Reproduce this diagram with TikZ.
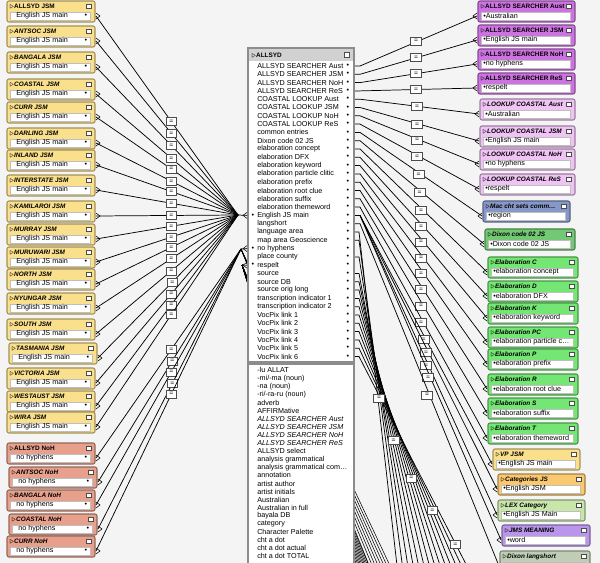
\documentclass[tikz,border=0pt]{standalone}
\usepackage{fontspec}
\setmainfont{Liberation Sans}
\usetikzlibrary{calc,backgrounds}
\definecolor{jsmyellow}{RGB}{250,224,140}
\definecolor{nohred}{RGB}{230,160,140}
\definecolor{searchpurple}{RGB}{205,115,225}
\definecolor{lookuppink}{RGB}{240,195,245}
\definecolor{macblue}{RGB}{135,152,200}
\definecolor{dixongreen}{RGB}{115,200,115}
\definecolor{elabgreen}{RGB}{115,230,115}
\definecolor{catorange}{RGB}{250,200,110}
\definecolor{lexgreen}{RGB}{200,230,170}
\definecolor{jmslilac}{RGB}{185,150,235}
\definecolor{langgrey}{RGB}{190,205,180}
\definecolor{canvas}{RGB}{244,244,244}
\newcommand{\hdrfont}{\fontsize{4.8}{5}\selectfont\bfseries}
\newcommand{\fldfont}{\fontsize{5.4}{6}\selectfont}
% table frame: name, x, y, width, colour, title, title shape
\newcommand{\tblframe}[7]{%
  \draw[rounded corners=1.5pt, fill=#5, draw=#5!65!black, line width=0.8pt] (#2,#3) rectangle (#2+#4,#3+21);
  \node[anchor=west, inner sep=0, font=\hdrfont#7] (#1) at (#2+2,#3+5.5) {{\tiny$\triangleright$}#6};
  \draw[fill=white, draw=black!25] (#2+3,#3+11) rectangle (#2+#4-5,#3+19);
  \draw[fill=white, draw=black!70] (#2+#4-9,#3+3) rectangle (#2+#4-4,#3+7.5);
  \coordinate (#1w) at (#2-1,#3+15);
  \coordinate (#1e) at (#2+#4+1,#3+15);}
% left table: field then bullet, fork on the right
\newcommand{\ltbl}[7]{%
  \tblframe{#1}{#2}{#3}{#4}{#5}{#6}{#7}
  \node[anchor=west, inner sep=0, font=\fldfont] at (#2+9,#3+15) {English JS main};
  \node[inner sep=0, font=\fldfont] at (#2+#4-9,#3+15) {•};
  \draw (#1e) ++(0,-3) -- ++(4,3) -- ++(-4,3);}
\newcommand{\lnoh}[7]{%
  \tblframe{#1}{#2}{#3}{#4}{#5}{#6}{#7}
  \node[anchor=west, inner sep=0, font=\fldfont] at (#2+9,#3+15) {no hyphens};
  \node[inner sep=0, font=\fldfont] at (#2+#4-9,#3+15) {•};
  \draw (#1e) ++(0,-3) -- ++(4,3) -- ++(-4,3);}
% right table: bullet then field, fork on the left
\newcommand{\rtbl}[8]{%
  \tblframe{#1}{#2}{#3}{#4}{#5}{#6}{#7}
  \node[anchor=west, inner sep=0, font=\fldfont] at (#2+5,#3+15) {•#8};
  \draw (#1w) ++(0,-3) -- ++(-4,3) -- ++(4,3);}

\begin{document}
\begin{tikzpicture}[x=0.75pt, y=-0.75pt, line width=0.5pt,
  eqbox/.style={draw=black!70, fill=white, minimum width=8pt, minimum height=6pt,
    inner sep=0, font=\fontsize{5}{5}\selectfont, text height=3pt},
  link/.style={draw=black, line width=0.55pt}]
\begin{pgfonlayer}{background}
\fill[canvas] (0,0) rectangle (600,563);
\end{pgfonlayer}
\useasboundingbox (0,0) rectangle (600,563);

% centre table ALLSYD
\draw[draw=black!45, fill=white, line width=1.2pt] (248,48) rectangle (354,362);
\fill[black!18] (249,49) rectangle (353,61);
\node[anchor=west, inner sep=0, font=\hdrfont] (allsyd) at (251,55) {{\tiny$\triangleright$}ALLSYD};
\draw[fill=white, draw=black!70] (344,52) rectangle (349,57);
\foreach \t [count=\i] in {ALLSYD SEARCHER Aust, ALLSYD SEARCHER JSM, ALLSYD SEARCHER NoH,
    ALLSYD SEARCHER ReS, COASTAL LOOKUP Aust, COASTAL LOOKUP JSM, COASTAL LOOKUP NoH,
    COASTAL LOOKUP ReS, common entries, Dixon code 02 JS, elaboration concept,
    elaboration DFX, elaboration keyword, elaboration particle clitic, elaboration prefix,
    elaboration root clue, elaboration suffix, elaboration themeword, English JS main,
    langshort, language area, map area Geoscience, no hyphens, place county, respelt,
    source, source DB, source orig long, transcription indicator 1,
    transcription indicator 2, VocPix link 1, VocPix link 2, VocPix link 3,
    VocPix link 4, VocPix link 5, VocPix link 6} {
  \node[anchor=west, inner sep=0, font=\fldfont] (c\i) at (257,57.7+\i*8.3) {\t};
  \node[inner sep=0, font=\fldfont] at (348,57.7+\i*8.3) {•};
  \coordinate (cl\i) at (247,57.7+\i*8.3);
  \coordinate (cr\i) at (355,57.7+\i*8.3);
}
\foreach \i in {19,23,25}
  \node[inner sep=0, font=\fldfont] at (253,57.7+\i*8.3) {•};

% lower list of the same table
\draw[draw=black!45, fill=white, line width=1.2pt] (248,364) rectangle (354,570);
\foreach \t [count=\i] in {-lu ALLAT, -mi/-ma (noun), -na (noun), -ri/-ra-ru (noun), adverb,
    AFFIRMative, \textit{ALLSYD SEARCHER Aust}, \textit{ALLSYD SEARCHER JSM},
    \textit{ALLSYD SEARCHER NoH}, \textit{ALLSYD SEARCHER ReS}, ALLSYD select,
    analysis grammatical, analysis grammatical com\ldots, annotation, artist author,
    artist initials, Australian, Australian in full, bayala DB, category,
    Character Palette, cht a dot, cht a dot actual, cht a dot TOTAL}
  \node[anchor=west, inner sep=0, font=\fldfont] (f\i) at (257,362+\i*8.1) {\t};

% left tables JSM
\ltbl{ajsm}{7}{1}{88}{jsmyellow}{ALLSYD JSM}{}
\ltbl{antjsm}{7}{26}{88}{jsmyellow}{ANTSOC JSM}{\itshape}
\ltbl{banjsm}{7}{52}{88}{jsmyellow}{BANGALA JSM}{\itshape}
\ltbl{coajsm}{7}{79}{88}{jsmyellow}{COASTAL JSM}{\itshape}
\ltbl{curjsm}{7}{102}{88}{jsmyellow}{CURR JSM}{\itshape}
\ltbl{darjsm}{7}{128}{88}{jsmyellow}{DARLING JSM}{\itshape}
\ltbl{injsm}{7}{150}{88}{jsmyellow}{INLAND JSM}{\itshape}
\ltbl{intjsm}{7}{175}{88}{jsmyellow}{INTERSTATE JSM}{\itshape}
\ltbl{kamjsm}{7}{201}{88}{jsmyellow}{KAMILAROI JSM}{\itshape}
\ltbl{murjsm}{7}{224}{88}{jsmyellow}{MURRAY JSM}{\itshape}
\ltbl{muwjsm}{7}{247}{88}{jsmyellow}{MURUWARI JSM}{\itshape}
\ltbl{norjsm}{7}{269}{88}{jsmyellow}{NORTH JSM}{\itshape}
\ltbl{nyujsm}{7}{293}{88}{jsmyellow}{NYUNGAR JSM}{\itshape}
\ltbl{soujsm}{7}{319}{88}{jsmyellow}{SOUTH JSM}{\itshape}
\ltbl{tasjsm}{9}{343}{88}{jsmyellow}{TASMANIA JSM}{\itshape}
\ltbl{vicjsm}{7}{368}{88}{jsmyellow}{VICTORIA JSM}{\itshape}
\ltbl{wesjsm}{7}{391}{88}{jsmyellow}{WESTAUST JSM}{\itshape}
\ltbl{wirjsm}{7}{412}{88}{jsmyellow}{WIRA JSM}{\itshape}
% left tables NoH
\lnoh{anoh}{7}{443}{88}{nohred}{ALLSYD NoH}{}
\lnoh{antnoh}{9}{467}{88}{nohred}{ANTSOC NoH}{\itshape}
\lnoh{bannoh}{7}{490}{88}{nohred}{BANGALA NoH}{\itshape}
\lnoh{coanoh}{9}{514}{88}{nohred}{COASTAL NoH}{\itshape}
\lnoh{curnoh}{7}{536}{88}{nohred}{CURR NoH}{\itshape}

% right tables
\rtbl{sraus}{478}{1}{97}{searchpurple}{ALLSYD SEARCHER Aust}{}{Australian}
\rtbl{srjsm}{478}{25}{97}{searchpurple}{ALLSYD SEARCHER JSM}{}{English JS main}
\rtbl{srnoh}{478}{49}{97}{searchpurple}{ALLSYD SEARCHER NoH}{}{no hyphens}
\rtbl{srres}{478}{73}{97}{searchpurple}{ALLSYD SEARCHER ReS}{}{respelt}
\rtbl{lcaus}{480}{99}{95}{lookuppink}{LOOKUP COASTAL Aust}{\itshape}{Australian}
\rtbl{lcjsm}{480}{126}{95}{lookuppink}{LOOKUP COASTAL JSM}{\itshape}{English JS main}
\rtbl{lcnoh}{480}{149}{95}{lookuppink}{LOOKUP COASTAL NoH}{\itshape}{no hyphens}
\rtbl{lcres}{480}{174}{95}{lookuppink}{LOOKUP COASTAL ReS}{\itshape}{respelt}
\rtbl{mac}{483}{201}{87}{macblue}{Mac cht sets comm\ldots}{\itshape}{region}
\rtbl{dixon}{485}{229}{90}{dixongreen}{Dixon code 02 JS}{\itshape}{Dixon code 02 JS}
\rtbl{elc}{488}{257}{90}{elabgreen}{Elaboration C}{\itshape}{elaboration concept}
\rtbl{eld}{488}{281}{90}{elabgreen}{Elaboration D}{\itshape}{elaboration DFX}
\rtbl{elk}{488}{303}{90}{elabgreen}{Elaboration K}{\itshape}{elaboration keyword}
\rtbl{elpc}{488}{327}{90}{elabgreen}{Elaboration PC}{\itshape}{elaboration particle c\ldots}
\rtbl{elp}{488}{349}{90}{elabgreen}{Elaboration P}{\itshape}{elaboration prefix}
\rtbl{elr}{488}{374}{90}{elabgreen}{Elaboration R}{\itshape}{elaboration root clue}
\rtbl{els}{488}{398}{90}{elabgreen}{Elaboration S}{\itshape}{elaboration suffix}
\rtbl{elt}{488}{423}{90}{elabgreen}{Elaboration T}{\itshape}{elaboration themeword}
\rtbl{vp}{493}{449}{87}{jsmyellow}{VP JSM}{\itshape}{English JS main}
\rtbl{cat}{498}{474}{87}{catorange}{Categories JS}{\itshape}{English JSM}
\rtbl{lex}{498}{500}{87}{lexgreen}{LEX Category}{\itshape}{English JS Main}
\rtbl{jms}{502}{525}{88}{jmslilac}{JMS MEANING}{\itshape}{word}
\tblframe{dlang}{500}{551}{90}{langgrey}{Dixon langshort}{\itshape}
\draw (dlangw) ++(0,-3) -- ++(-4,3) -- ++(4,3);

% hubs on the left side of ALLSYD
\coordinate (hubE) at (238,215);
\coordinate (hubN) at (241,249);
\coordinate (hubR) at (242,265);
\draw[link] (hubE) -- (cl19);
\draw[link] (hubN) -- (cl23);
\draw[link] (hubR) -- (cl25);
\draw (cl19) ++(0,-3) -- ++(-4,3) -- ++(4,3);
\draw (cl23) ++(0,-3) -- ++(-4,3) -- ++(4,3);
\draw (cl25) ++(0,-3) -- ++(-4,3) -- ++(4,3);

% JSM links
\foreach \n in {ajsm,antjsm,banjsm,coajsm,curjsm,darjsm,injsm,intjsm,kamjsm,
    murjsm,muwjsm,norjsm,nyujsm,soujsm,tasjsm,vicjsm,wesjsm,wirjsm} {
  \draw[link] (\n e) -- (hubE);
  \node[eqbox] (eq\n) at ($(\n e)!0.53!(hubE)$) {=};
}
% NoH links
\foreach \n in {anoh,antnoh,bannoh,coanoh,curnoh} {
  \draw[link] (\n e) -- (hubN);
  \node[eqbox] (eq\n) at ($(\n e)!0.52!(hubN)$) {=};
}

% right links
\foreach \i/\n in {1/sraus,2/srjsm,3/srnoh,4/srres,5/lcaus,6/lcjsm,7/lcnoh,8/lcres,
    9/mac,10/dixon,11/elc,12/eld,13/elk,14/elpc,15/elp,16/elr,17/els,18/elt,
    19/vp,19/cat,19/lex,19/jms,20/dlang} {
  \draw[link] (cr\i) -- ++(5,0) -- (\n w);
  \node[eqbox] (eqr\n) at ($(cr\i)!0.5!(\n w)$) {=};
}

% links to tables below the view, behind the tables
\begin{pgfonlayer}{background}
\foreach \i [count=\k] in {21,22,24,26,27,28,29,30,31,32,33,34,35,36} {
  \coordinate (low\k) at (392+\k*5.5,570);
  \draw[link] (cr\i) -- ++(4,0) -- (low\k);
}
\foreach \k in {1,...,28} {
  \coordinate (bot\k) at (333+\k*1.35,570);
  \draw[line width=0.4pt] (hubR) -- (bot\k);
}
\foreach \k in {1,...,8} {
  \coordinate (bon\k) at (368+\k*3,570);
  \draw[line width=0.4pt] (hubN) -- (bon\k);
}
\end{pgfonlayer}
\foreach \i/\k/\f in {24/3/0.45,27/6/0.55,30/9/0.65,33/12/0.75,36/14/0.88}
  \node[eqbox] at ($(cr\i)!\f!(low\k)$) {=};
\end{tikzpicture}
\end{document}
